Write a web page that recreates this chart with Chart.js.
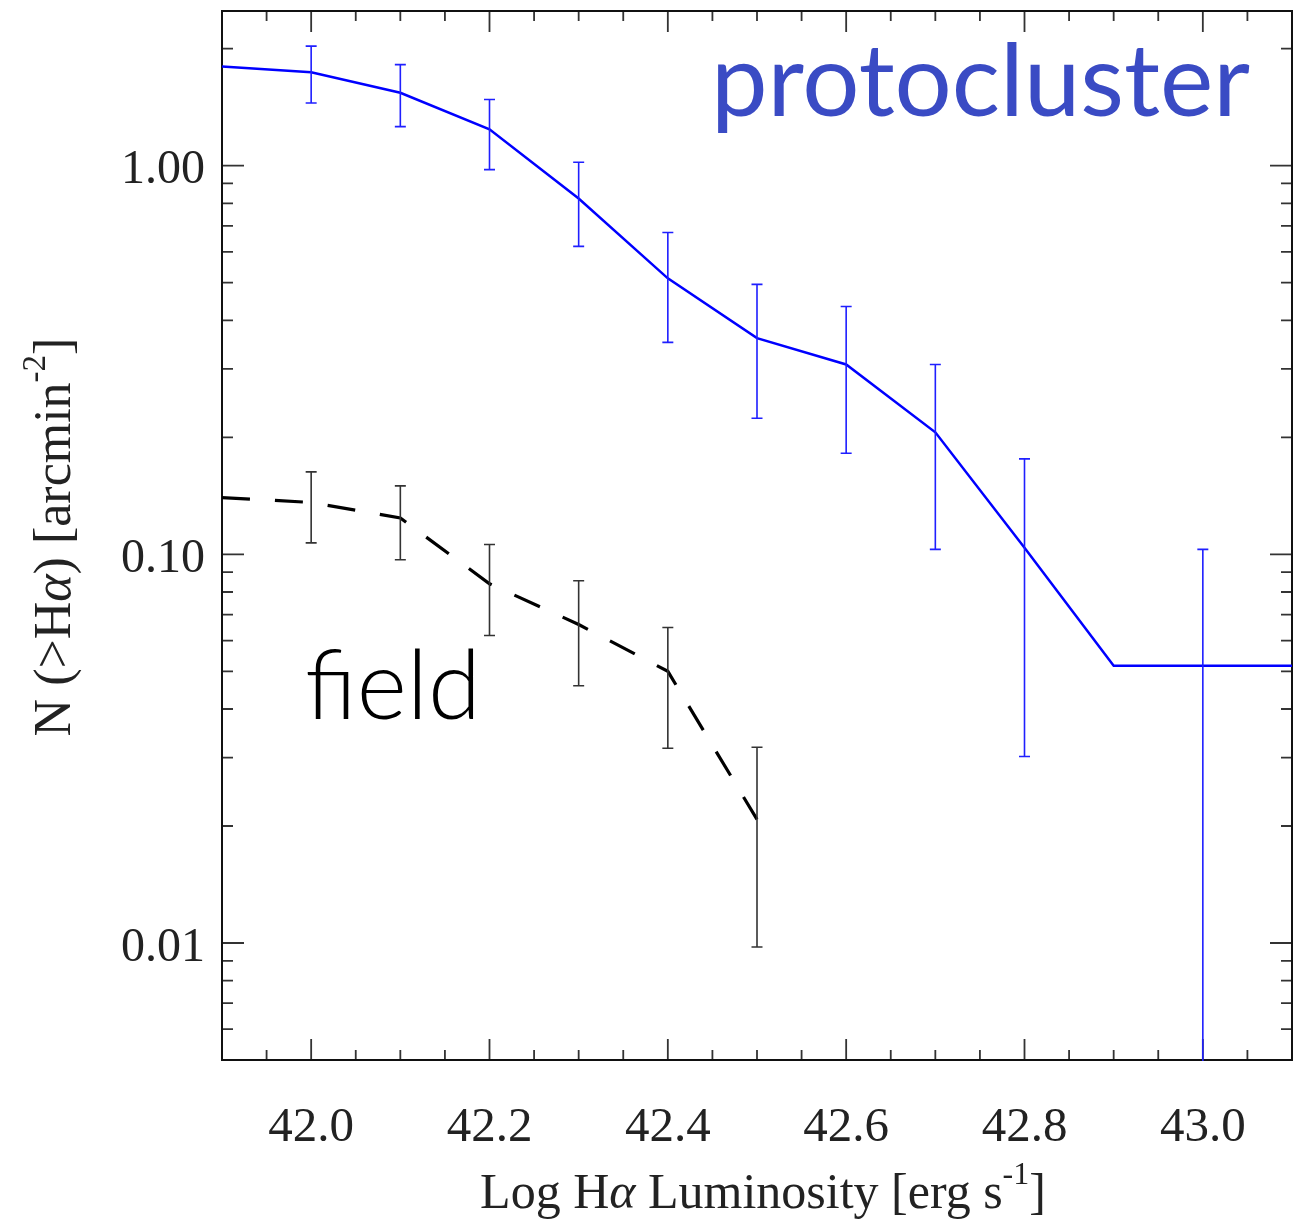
<!DOCTYPE html>
<html>
<head>
<meta charset="utf-8">
<script src="https://cdn.jsdelivr.net/npm/chart.js@4.4.1/dist/chart.umd.min.js"></script>
<style>
  html, body { margin: 0; padding: 0; background: #fff; }
</style>
</head>
<body>
<canvas id="lumChart" width="1305" height="1226"></canvas>
<script>
// protocluster counts
const protoX = [41.9, 42.0, 42.1, 42.2, 42.3, 42.4, 42.5, 42.6, 42.7, 42.8, 42.9, 43.0, 43.1];
const protoValues = [1.80, 1.74, 1.54, 1.24, 0.823, 0.513, 0.360, 0.308, 0.206, 0.104, 0.0517, 0.0517, 0.0517];
const protoHi = [null, 2.03, 1.82, 1.48, 1.02, 0.673, 0.495, 0.434, 0.308, 0.176, null, 0.103, null];
const protoLo = [null, 1.45, 1.26, 0.977, 0.620, 0.351, 0.224, 0.182, 0.103, 0.0302, null, 0.003, null];

// field counts
const fieldX = [41.9, 42.0, 42.1, 42.2, 42.3, 42.4, 42.5];
const fieldValues = [0.140, 0.136, 0.124, 0.084, 0.066, 0.050, 0.0208];
const fieldHi = [null, 0.163, 0.150, 0.106, 0.0855, 0.0648, 0.0319];
const fieldLo = [null, 0.107, 0.0968, 0.0618, 0.0459, 0.0317, 0.00977];

// ticks
const xMajorTicks = [42.0, 42.2, 42.4, 42.6, 42.8, 43.0];
const xAllTicks = [41.90, 41.95, 42.00, 42.05, 42.10, 42.15, 42.20, 42.25, 42.30, 42.35, 42.40, 42.45,
                   42.50, 42.55, 42.60, 42.65, 42.70, 42.75, 42.80, 42.85, 42.90, 42.95, 43.00, 43.05, 43.10];
const yMajorTicks = [0.01, 0.1, 1];
const yAllTicks = [0.005, 0.006, 0.007, 0.008, 0.009,
                   0.01, 0.02, 0.03, 0.04, 0.05, 0.06, 0.07, 0.08, 0.09,
                   0.1, 0.2, 0.3, 0.4, 0.5, 0.6, 0.7, 0.8, 0.9,
                   1, 2];

function pairs(xs, ys) {
    return xs.map(function (x, i) { return { x: x, y: ys[i] }; });
}
function isMajor(list, v) {
    return list.some(function (m) { return Math.abs(m - v) < 1e-6 * Math.max(1, m); });
}

const serif = '"Liberation Serif", "Times New Roman", serif';

// frame and inward tick marks on all four sides
const framePlugin = {
    id: 'frame',
    beforeDatasetsDraw: function (chart) {
        const ctx = chart.ctx;
        const a = chart.chartArea;
        const xs = chart.scales.x, ys = chart.scales.y;
        ctx.save();
        ctx.strokeStyle = '#333';
        ctx.lineWidth = 1.8;
        xs.ticks.forEach(function (t) {
            const px = xs.getPixelForValue(t.value);
            const len = isMajor(xMajorTicks, t.value) ? 21 : 10;
            ctx.beginPath();
            ctx.moveTo(px, a.bottom); ctx.lineTo(px, a.bottom - len);
            ctx.moveTo(px, a.top); ctx.lineTo(px, a.top + len);
            ctx.stroke();
        });
        ys.ticks.forEach(function (t) {
            const py = ys.getPixelForValue(t.value);
            const len = isMajor(yMajorTicks, t.value) ? 22 : 11;
            ctx.beginPath();
            ctx.moveTo(a.left, py); ctx.lineTo(a.left + len, py);
            ctx.moveTo(a.right, py); ctx.lineTo(a.right - len, py);
            ctx.stroke();
        });
        ctx.strokeStyle = '#111';
        ctx.lineWidth = 2;
        ctx.strokeRect(a.left, a.top, a.right - a.left, a.bottom - a.top);
        ctx.restore();
    }
};

// vertical error bars with small caps
const errorBarPlugin = {
    id: 'errorBars',
    afterDatasetsDraw: function (chart) {
        const ctx = chart.ctx;
        const a = chart.chartArea;
        const xs = chart.scales.x, ys = chart.scales.y;
        ctx.save();
        ctx.beginPath();
        ctx.rect(a.left, a.top - 1, a.right - a.left, a.bottom - a.top + 2);
        ctx.clip();
        chart.data.datasets.forEach(function (ds) {
            if (!ds.errHi) return;
            ctx.strokeStyle = ds.errColor;
            ctx.lineWidth = 1.6;
            ds.data.forEach(function (p, i) {
                if (ds.errHi[i] == null) return;
                const px = xs.getPixelForValue(p.x);
                const top = ys.getPixelForValue(ds.errHi[i]);
                const bot = ys.getPixelForValue(ds.errLo[i]);
                ctx.beginPath();
                ctx.moveTo(px, top); ctx.lineTo(px, bot);
                ctx.moveTo(px - 5.5, top); ctx.lineTo(px + 5.5, top);
                ctx.moveTo(px - 5.5, bot); ctx.lineTo(px + 5.5, bot);
                ctx.stroke();
            });
        });
        ctx.restore();
    }
};

function drawRuns(ctx, runs, x, y, align) {
    let total = 0;
    runs.forEach(function (r) { ctx.font = r.font; r.w = ctx.measureText(r.text).width; total += r.w; });
    let cx = align === 'center' ? x - total / 2 : x;
    runs.forEach(function (r) {
        ctx.font = r.font;
        ctx.fillText(r.text, cx, y + (r.dy || 0));
        cx += r.w;
    });
}

// axis titles and the two in-plot labels
const labelPlugin = {
    id: 'labels',
    afterDraw: function (chart) {
        const ctx = chart.ctx;
        ctx.save();
        ctx.textBaseline = 'alphabetic';
        ctx.textAlign = 'left';
        ctx.fillStyle = '#222';
        drawRuns(ctx, [
            { text: 'Log H', font: '50px ' + serif },
            { text: 'α', font: 'italic 50px ' + serif },
            { text: ' Luminosity [erg s', font: '50px ' + serif },
            { text: '-1', font: '32px ' + serif, dy: -24 },
            { text: ']', font: '50px ' + serif }
        ], 763, 1208, 'center');

        ctx.save();
        ctx.translate(70, 537);
        ctx.rotate(-Math.PI / 2);
        drawRuns(ctx, [
            { text: 'N (>H', font: '52px ' + serif },
            { text: 'α', font: 'italic 52px ' + serif },
            { text: ') [arcmin', font: '52px ' + serif },
            { text: '-2', font: '33px ' + serif, dy: -25 },
            { text: ']', font: '52px ' + serif }
        ], 0, 0, 'center');
        ctx.restore();

        ctx.fillStyle = 'rgb(58, 75, 196)';
        ctx.font = '101px Lato, "Open Sans", sans-serif';
        ctx.textAlign = 'right';
        ctx.fillText('protocluster', 1250, 116);

        ctx.fillStyle = '#000';
        ctx.font = '300 96px Lato, "Open Sans", sans-serif';
        ctx.textAlign = 'left';
        ctx.fillText('field', 305, 719);
        ctx.restore();
    }
};

new Chart(document.getElementById('lumChart'), {
    type: 'line',
    data: {
        datasets: [
            {
                label: 'protocluster',
                data: pairs(protoX, protoValues),
                errHi: protoHi,
                errLo: protoLo,
                errColor: '#1f1fff',
                borderColor: '#0000ff',
                borderWidth: 2.5,
                pointRadius: 0,
                tension: 0,
                fill: false
            },
            {
                label: 'field',
                data: pairs(fieldX, fieldValues),
                errHi: fieldHi,
                errLo: fieldLo,
                errColor: '#333',
                borderColor: '#000',
                borderWidth: 3.2,
                borderDash: [28, 25],
                pointRadius: 0,
                tension: 0,
                fill: false
            }
        ]
    },
    options: {
        responsive: false,
        animation: false,
        layout: { padding: { top: 11, right: 13, left: 0, bottom: 0 } },
        plugins: { legend: { display: false }, tooltip: { enabled: false } },
        scales: {
            x: {
                type: 'linear',
                min: 41.9,
                max: 43.1,
                afterBuildTicks: function (s) { s.ticks = xAllTicks.map(function (v) { return { value: v }; }); },
                afterFit: function (s) { s.height = 166; s.paddingLeft = 0; s.paddingRight = 0; },
                grid: { display: false, drawTicks: false },
                border: { display: false },
                ticks: {
                    autoSkip: false,
                    maxRotation: 0,
                    padding: 39,
                    color: '#222',
                    font: { family: serif, size: 49 },
                    callback: function (v) { return isMajor(xMajorTicks, v) ? v.toFixed(1) : ''; }
                }
            },
            y: {
                type: 'logarithmic',
                min: 0.005,
                max: 2.5,
                afterBuildTicks: function (s) { s.ticks = yAllTicks.map(function (v) { return { value: v }; }); },
                afterFit: function (s) { s.width = 222; s.paddingTop = 0; s.paddingBottom = 0; },
                grid: { display: false, drawTicks: false },
                border: { display: false },
                ticks: {
                    autoSkip: false,
                    padding: 17,
                    labelOffset: 5,
                    color: '#222',
                    font: { family: serif, size: 48 },
                    callback: function (v) { return isMajor(yMajorTicks, v) ? v.toFixed(2) : ''; }
                }
            }
        }
    },
    plugins: [framePlugin, errorBarPlugin, labelPlugin]
});
</script>
</body>
</html>
